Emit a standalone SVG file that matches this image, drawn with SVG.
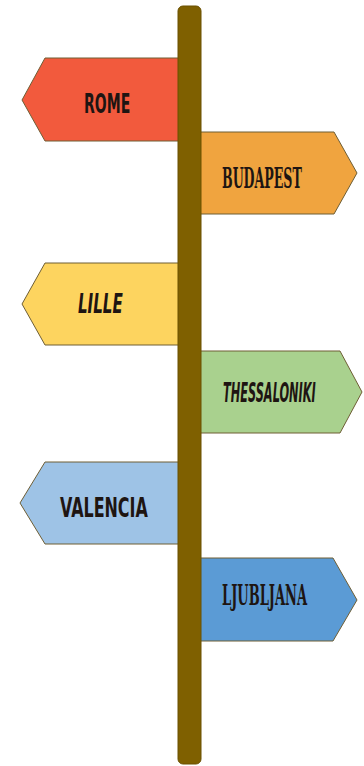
<svg xmlns="http://www.w3.org/2000/svg" width="364" height="766" viewBox="0 0 364 766">
<style>
.sign{stroke:#6e5e35;stroke-width:1;stroke-linejoin:miter}
.lbl{fill:#1e1512;font-weight:bold;font-family:"DejaVu Sans Condensed","DejaVu Sans",sans-serif;font-size:27px}
.serif{font-family:"DejaVu Serif Condensed","DejaVu Serif",serif}
.ital{font-style:italic}
</style>
<rect width="364" height="766" fill="#ffffff"/>
<g id="rome">
<polygon class="sign" fill="#f25a3d" points="45,58 180,58 180,141 45,141 22,100"/>
<text class="lbl" transform="translate(84,113) scale(0.66,1)" x="0" y="0" textLength="70" lengthAdjust="spacingAndGlyphs">ROME</text>
</g>
<g id="budapest">
<polygon class="sign" fill="#f0a43f" points="199,132 334,132 357,173 334,214 199,214"/>
<text class="lbl serif" transform="translate(222,188) scale(0.6,1)" x="0" y="0" font-size="24" textLength="133" lengthAdjust="spacingAndGlyphs">BUDAPEST</text>
</g>
<g id="lille">
<polygon class="sign" fill="#fdd45f" points="45,263 180,263 180,345 45,345 22,304"/>
<text class="lbl ital" transform="translate(78,313) scale(0.7,1)" x="0" y="0" textLength="64" lengthAdjust="spacingAndGlyphs">LILLE</text>
</g>
<g id="thessaloniki">
<polygon class="sign" fill="#a9d18e" points="199,351 340,351 362,392 340,433 199,433"/>
<text class="lbl ital" transform="translate(223,402) scale(0.58,1)" x="0" y="0" font-size="24" textLength="160" lengthAdjust="spacingAndGlyphs">THESSALONIKI</text>
</g>
<g id="valencia">
<polygon class="sign" fill="#9ec3e6" points="45,462 180,462 180,544 45,544 20,503"/>
<text class="lbl" transform="translate(60,517) scale(0.72,1)" x="0" y="0" font-size="25" fill="#1a2433" textLength="122" lengthAdjust="spacingAndGlyphs">VALENCIA</text>
</g>
<g id="ljubljana">
<polygon class="sign" fill="#5b9bd5" points="199,558 333,558 357,600 333,641 199,641"/>
<text class="lbl serif" transform="translate(222,605) scale(0.67,1)" x="0" y="0" font-size="24" textLength="127" lengthAdjust="spacingAndGlyphs">LJUBLJANA</text>
</g>
<g id="pole">
<rect x="178" y="6" width="23" height="758" rx="5" fill="#7f6000" stroke="#6a5000" stroke-width="1"/>
</g>
</svg>
